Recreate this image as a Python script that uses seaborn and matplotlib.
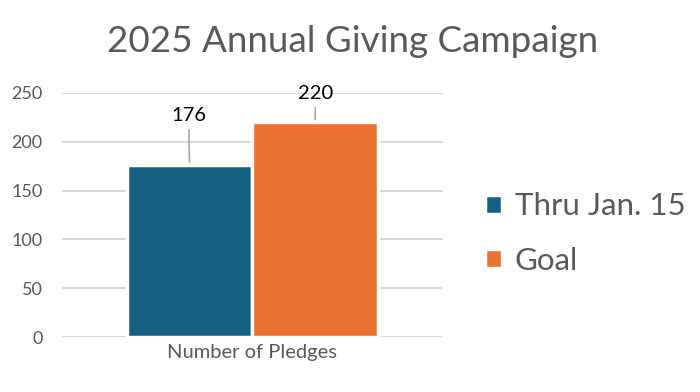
import pandas as pd
import matplotlib.pyplot as plt
import seaborn as sns

title = "2025 Annual Giving Campaign"
category = ["Number of Pledges"]
series = ["Thru Jan. 15", "Goal"]
pledges = [176, 220]
colors = ["#156082", "#E97132"]
y_ticks = [0, 50, 100, 150, 200, 250]

df = pd.DataFrame({
    "category": category * len(series),
    "series": series,
    "value": pledges,
})

sns.set_theme(style="white")
plt.rcParams["font.family"] = ["Lato", "DejaVu Sans"]

fig = plt.figure(figsize=(7, 3.92), dpi=100)
ax = fig.add_axes([0.0886, 0.140, 0.544, 0.623])

sns.barplot(data=df, x="category", y="value", hue="series", palette=colors,
            width=0.66, saturation=1, edgecolor="white", linewidth=2.5, ax=ax)

ax.set_xlim(-0.5, 0.5)
ax.set_ylim(0, 250)
ax.set_yticks(y_ticks)
ax.set_xlabel("")
ax.set_ylabel("")
sns.despine(ax=ax, left=True, bottom=True)
ax.yaxis.grid(True, color="#d4d4d4", lw=1.3)
ax.set_axisbelow(True)
ax.tick_params(axis="y", labelsize=13, labelcolor="#595959", length=0, pad=14)
ax.tick_params(axis="x", labelsize=14.5, labelcolor="#595959", length=0, pad=5)

# data labels with leader lines
offsets = [(-1, 50), (0, 29)]
for cont, off in zip(ax.containers, offsets):
    bar = cont[0]
    x = bar.get_x() + bar.get_width() / 2
    h = bar.get_height()
    ax.annotate(f"{h:.0f}", xy=(x, h), xytext=off, textcoords="offset pixels",
                ha="center", va="center", fontsize=14.5, color="black",
                arrowprops=dict(arrowstyle="-", color="#a6a6a6", lw=1.2),
                annotation_clip=False)

handles, labels = ax.get_legend_handles_labels()
ax.legend(handles, labels, loc="center left", bbox_to_anchor=(0.693, 0.404),
          bbox_transform=fig.transFigure, frameon=False, fontsize=22.5,
          handlelength=0.55, handleheight=0.55, handletextpad=0.4,
          labelspacing=0.85, borderpad=0, borderaxespad=0, labelcolor="#595959")

fig.text(0.503, 1 - 42 / 392, title, ha="center", va="center",
         fontsize=26.5, color="#595959")

fig.savefig("out.png", dpi=100)
